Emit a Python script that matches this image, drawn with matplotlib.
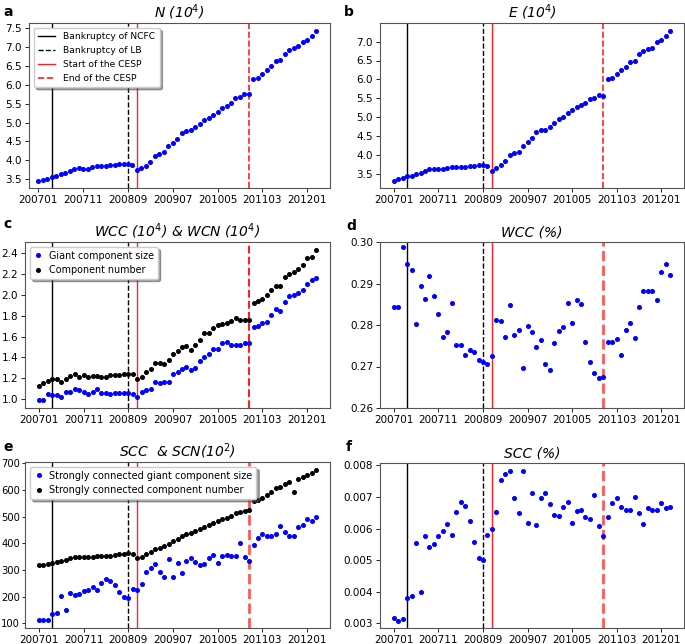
import matplotlib
matplotlib.use('Agg')
import matplotlib.pyplot as plt
from matplotlib.ticker import MultipleLocator

# monthly snapshots 200701 .. 201203
months = ['%d%02d' % (2007 + i // 12, i % 12 + 1) for i in range(63)]
tick_labels = ['200701', '200711', '200809', '200907', '201005', '201103', '201201']

# events
ev_ncfc = '200704'
ev_lb = '200809'
ev_cesp_start = '200811'
ev_cesp_end = '201012'

nodes = [3.47, 3.49, 3.52, 3.56, 3.58, 3.64, 3.68, 3.73, 3.78, 3.79, 3.78, 3.77,
         3.83, 3.84, 3.85, 3.86, 3.88, 3.89, 3.90, 3.91, 3.91, 3.89, 3.74, 3.79,
         3.86, 3.97, 4.13, 4.17, 4.21, 4.38, 4.46, 4.56, 4.72, 4.79, 4.80, 4.89,
         4.97, 5.06, 5.13, 5.20, 5.29, 5.38, 5.43, 5.52, 5.64, 5.68, 5.75, 5.76,
         6.15, 6.17, 6.27, 6.39, 6.49, 6.62, 6.66, 6.82, 6.91, 6.97, 7.02, 7.13,
         7.17, 7.28, 7.43]

edges = [3.34, 3.37, 3.41, 3.45, 3.46, 3.50, 3.54, 3.60, 3.64, 3.65, 3.64, 3.63,
         3.67, 3.70, 3.70, 3.70, 3.70, 3.71, 3.72, 3.74, 3.75, 3.73, 3.59, 3.66,
         3.75, 3.86, 4.02, 4.07, 4.10, 4.26, 4.35, 4.46, 4.62, 4.67, 4.68, 4.75,
         4.86, 4.95, 5.02, 5.11, 5.20, 5.27, 5.32, 5.38, 5.49, 5.51, 5.58, 5.56,
         6.02, 6.04, 6.14, 6.25, 6.34, 6.47, 6.50, 6.67, 6.75, 6.79, 6.83, 6.98,
         7.05, 7.14, 7.29]

wcc_size = [0.99, 0.99, 1.05, 1.04, 1.04, 1.02, 1.07, 1.07, 1.10, 1.09, 1.07, 1.05,
            1.07, 1.10, 1.06, 1.06, 1.05, 1.06, 1.06, 1.06, 1.06, 1.05, 1.02, 1.07,
            1.09, 1.10, 1.17, 1.16, 1.17, 1.17, 1.24, 1.26, 1.29, 1.31, 1.28, 1.30,
            1.37, 1.40, 1.43, 1.48, 1.48, 1.54, 1.55, 1.52, 1.52, 1.52, 1.54, 1.54,
            1.69, 1.70, 1.73, 1.74, 1.81, 1.86, 1.84, 1.93, 1.99, 2.00, 2.02, 2.04,
            2.10, 2.14, 2.16]

wcc_number = [1.13, 1.16, 1.18, 1.19, 1.19, 1.17, 1.19, 1.22, 1.24, 1.21, 1.23, 1.21,
              1.22, 1.22, 1.21, 1.21, 1.23, 1.23, 1.23, 1.24, 1.24, 1.24, 1.19, 1.21,
              1.26, 1.29, 1.35, 1.35, 1.34, 1.38, 1.43, 1.46, 1.50, 1.51, 1.47, 1.52,
              1.57, 1.63, 1.63, 1.68, 1.71, 1.72, 1.73, 1.75, 1.78, 1.76, 1.76, 1.76,
              1.92, 1.94, 1.96, 2.00, 2.04, 2.08, 2.08, 2.17, 2.20, 2.22, 2.24, 2.28,
              2.35, 2.36, 2.43]

wcc_pct = [0.2844, 0.2843, 0.2987, 0.2946, 0.2932, 0.2803, 0.2894, 0.2863, 0.2919,
           0.2869, 0.2827, 0.2771, 0.2784, 0.2852, 0.2752, 0.2752, 0.2728, 0.2740,
           0.2735, 0.2716, 0.2711, 0.2705, 0.2726, 0.2813, 0.2810, 0.2772, 0.2848,
           0.2775, 0.2789, 0.2697, 0.2798, 0.2782, 0.2748, 0.2765, 0.2706, 0.2691,
           0.2757, 0.2785, 0.2795, 0.2853, 0.2805, 0.2861, 0.2851, 0.2760, 0.2710,
           0.2684, 0.2672, 0.2674, 0.2759, 0.2760, 0.2766, 0.2728, 0.2789, 0.2805,
           0.2769, 0.2844, 0.2881, 0.2882, 0.2883, 0.2860, 0.2927, 0.2948, 0.2921]

scc_size = [110, 110, 111, 136, 139, 201, 148, 215, 205, 210, 219, 225,
            237, 224, 252, 264, 259, 242, 218, 199, 196, 228, 225, 248,
            292, 308, 323, 292, 274, 342, 275, 324, 289, 333, 343, 330,
            319, 323, 343, 356, 327, 353, 357, 352, 354, 401, 349, 332,
            392, 421, 436, 427, 427, 434, 466, 444, 427, 427, 461, 470,
            491, 485, 497]

scc_number = [318, 320, 323, 327, 328, 333, 339, 343, 348, 349, 348, 347,
              350, 352, 353, 353, 354, 357, 358, 361, 362, 359, 345, 350,
              358, 366, 378, 384, 388, 399, 407, 417, 428, 436, 439, 446,
              455, 463, 470, 477, 485, 491, 496, 503, 512, 516, 522, 526,
              558, 563, 571, 582, 594, 606, 611, 624, 632, 591, 641, 650,
              657, 665, 677]

scc_pct = [0.00317, 0.00309, 0.00313, 0.00379, 0.00386, 0.00554, 0.00400, 0.00577,
           0.00542, 0.00552, 0.00577, 0.00593, 0.00616, 0.00581, 0.00652, 0.00683,
           0.00671, 0.00623, 0.00558, 0.00508, 0.00500, 0.00581, 0.00599, 0.00652,
           0.00754, 0.00774, 0.00784, 0.00698, 0.00651, 0.00782, 0.00618, 0.00712,
           0.00612, 0.00696, 0.00714, 0.00677, 0.00642, 0.00641, 0.00668, 0.00684,
           0.00618, 0.00657, 0.00658, 0.00637, 0.00631, 0.00707, 0.00607, 0.00577,
           0.00637, 0.00681, 0.00696, 0.00670, 0.00659, 0.00658, 0.00701, 0.00651,
           0.00616, 0.00665, 0.00658, 0.00660, 0.00682, 0.00665, 0.00670]

W, H = 685.0, 644.0
FS = 7.5
MS = 2.6
RED = '#ff2020'
x = list(range(len(months)))


def make_axes(fig, left, right, top, bottom):
    return fig.add_axes([left / W, 1 - bottom / H, (right - left) / W, (bottom - top) / H])


def events(ax, end_lw=1.2, end_alpha=1.0, label=False):
    lab = (lambda s: s) if label else (lambda s: None)
    h1 = ax.axvline(months.index(ev_ncfc), color='k', lw=1.0, label=lab('Bankruptcy of NCFC'))
    h2 = ax.axvline(months.index(ev_lb), color='k', lw=1.0, ls='--', label=lab('Bankruptcy of LB'))
    h3 = ax.axvline(months.index(ev_cesp_start), color=RED, lw=1.0, label=lab('Start of the CESP'))
    h4 = ax.axvline(months.index(ev_cesp_end), color=RED, lw=end_lw, ls='--',
                    alpha=end_alpha, label=lab('End of the CESP'))
    return [h1, h2, h3, h4]


def style(ax, title, ystep, xlim=(-3.1, 65.1)):
    ax.set_title(title, fontsize=10, fontstyle='italic', pad=4)
    ax.set_xticks([months.index(t) for t in tick_labels])
    ax.set_xticklabels(tick_labels)
    ax.set_xlim(xlim)
    if ystep:
        ax.yaxis.set_major_locator(MultipleLocator(ystep))
    ax.tick_params(labelsize=FS, length=3, width=0.6, pad=2)
    for s in ax.spines.values():
        s.set_color('#555555')
        s.set_linewidth(0.8)


fig = plt.figure(figsize=(W / 100, H / 100), dpi=100)

# a
ax = make_axes(fig, 29, 330, 23, 188)
hs = events(ax, label=True)
ax.plot(x, nodes, 'o', color='blue', ms=MS, ls='none')
style(ax, 'N (10$^4$)', 0.5, xlim=(-2.1, 65.1))
ax.legend(handles=hs, loc='upper left', fontsize=6.6, shadow=True, handlelength=1.9,
          borderpad=0.45, labelspacing=0.55, handletextpad=0.9)

# b
ax = make_axes(fig, 380, 684, 23, 188)
events(ax)
ax.plot(x, edges, 'o', color='blue', ms=MS, ls='none')
style(ax, 'E (10$^4$)', 0.5)

# c
ax = make_axes(fig, 25, 330, 242, 408)
events(ax, end_lw=1.5)
ax.plot(x, wcc_size, 'o', color='blue', ms=MS, ls='none', label='Giant component size')
ax.plot(x, wcc_number, 'o', color='black', ms=MS, ls='none', label='Component number')
style(ax, 'WCC (10$^4$) & WCN (10$^4$)', 0.2)
ax.legend(loc='upper left', fontsize=6.9, shadow=True, handlelength=1.0, borderpad=0.4,
          labelspacing=0.45, handletextpad=0.6)

# d
ax = make_axes(fig, 380, 684, 242, 408)
events(ax, end_lw=2.0, end_alpha=0.75)
ax.plot(x, wcc_pct, 'o', color='blue', ms=MS, ls='none')
style(ax, 'WCC (%)', None)
ax.set_ylim(0.26, 0.30)
ax.set_yticks([0.26, 0.27, 0.28, 0.29, 0.30])
ax.set_yticklabels(['0.26', '0.27', '0.28', '0.29', '0.30'])

# e
ax = make_axes(fig, 25, 330, 462, 628)
events(ax, end_lw=2.0, end_alpha=0.75)
ax.plot(x, scc_size, 'o', color='blue', ms=MS, ls='none',
        label='Strongly connected giant component size')
ax.plot(x, scc_number, 'o', color='black', ms=MS, ls='none',
        label='Strongly connected component number')
style(ax, 'SCC  & SCN(10$^2$)', 100)
ax.tick_params(axis='y', pad=1, length=2.5, labelsize=7.2)
ax.legend(loc='upper left', fontsize=7.0, shadow=True, handlelength=1.0, borderpad=0.4,
          labelspacing=0.45, handletextpad=0.6)

# f
ax = make_axes(fig, 380, 684, 463, 628)
events(ax, end_lw=2.0, end_alpha=0.75)
ax.plot(x, scc_pct, 'o', color='blue', ms=MS, ls='none')
style(ax, 'SCC (%)', 0.001)

for letter, px, py in [('a', 3, 12), ('b', 344, 12), ('c', 3, 224),
                       ('d', 346, 226), ('e', 3, 447), ('f', 346, 447)]:
    fig.text(px / W, 1 - py / H, letter, fontsize=10, fontweight='bold', va='center')

fig.savefig('out.png', dpi=100)
